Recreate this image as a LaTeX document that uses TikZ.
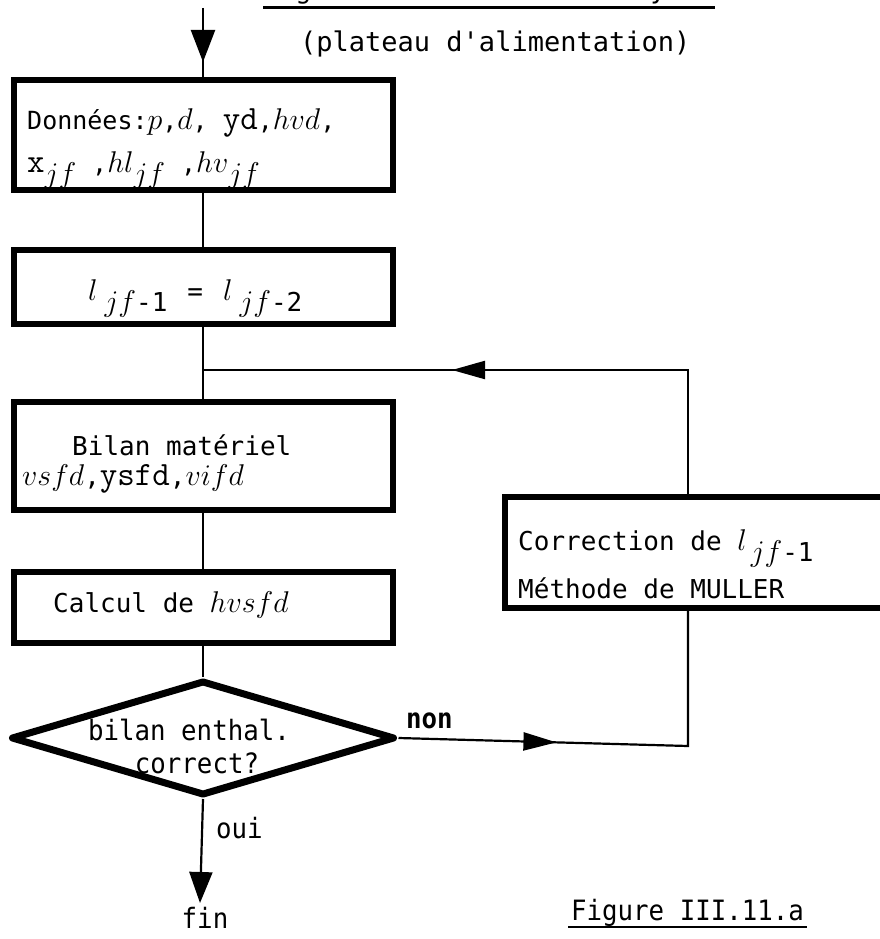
\documentclass[tikz,border=0pt]{standalone}
\usepackage{fix-cm}
\usepackage{fontspec}
\usetikzlibrary{shapes.geometric,arrows.meta,decorations.markings,calc}
\newfontfamily\mono{DejaVu Sans Mono}
\newfontfamily\narrow[FakeStretch=0.92]{DejaVu Sans Mono}
\newcommand\cour{\ttfamily\fontsize{34}{34}\selectfont}
\newcommand\mi[1]{{\fontsize{30}{30}\selectfont$#1$}}
\newcommand\lo[1]{\raisebox{-11pt}{#1}}
\tikzset{
  box/.style={draw, line width=6pt, inner sep=0pt},
  dia/.style={diamond, draw, line width=7pt, line join=round, inner sep=0pt,
              minimum width=384pt, minimum height=115pt},
  txt/.style={anchor=base west, inner sep=0pt, font={\mono\fontsize{26}{30}\selectfont}},
  txtA/.style={anchor=base west, inner sep=0pt, font={\mono\fontsize{25}{30}\selectfont}},
  ntxt/.style={anchor=base west, inner sep=0pt, font={\narrow\fontsize{28}{30}\selectfont}},
  conn/.style={line width=2.2pt},
  uline/.style={line width=2.5pt},
  bigarrow/.style={postaction={decorate}, decoration={markings,
      mark=at position #1 with {\arrow{Triangle[length=32pt,width=24pt]}}}},
  midarrow/.style={postaction={decorate}, decoration={markings,
      mark=at position #1 with {\arrow{Triangle[length=33pt,width=18pt]}}}},
}
\begin{document}
\begin{tikzpicture}[x=1pt,y=-1pt]
\fill[white] (0,0) rectangle (880,939);
\useasboundingbox (0,0) rectangle (880,939);

% title (cut off at top, as in the reference)
\node[anchor=base west, inner sep=0pt, font={\mono\fontsize{26.8}{30}\selectfont}] (title) at (263,-1) {Algorithme de calcul de ysfd};
\draw[uline] ([yshift=-8.5pt]title.base west) -- ([yshift=-8.5pt]title.base east);
\node[anchor=base west, inner sep=0pt, font={\mono\fontsize{27}{30}\selectfont}] (plat) at (300,52) {(plateau d'alimentation)};

% boxes
\node[box, minimum width=379pt, minimum height=110pt] (b1) at (203,135) {};
\node[box, minimum width=379pt, minimum height=74pt]  (b2) at (203,287) {};
\node[box, minimum width=379pt, minimum height=108pt] (b3) at (203,456) {};
\node[box, minimum width=379pt, minimum height=71pt]  (b4) at (203,607.5) {};
\node[box, minimum width=385pt, minimum height=111pt] (corr) at (697.5,552.5) {};
\node[dia] (d) at (203,738) {};

% texts
\node[txtA] (t1a) at (27,129) {Données:\mi{p},\mi{d}, {\cour yd},\mi{hvd},};
\node[txtA] (t1b) at (27,172) {{\cour x}\lo{\mi{jf}}\hspace{16pt},\mi{hl}\lo{\mi{jf}}\hspace{16pt},\mi{hv}\lo{\mi{jf}}};
\node[txt] (t2) at (88,300) {\mi{l}\hspace{7pt}\lo{\mi{jf}-1}\hspace{20pt}=\hspace{20pt}\mi{l}\hspace{7pt}\lo{\mi{jf}-2}};
\node[txt] (t3a) at (72,455) {Bilan matériel};
\node[txt] (t3b) at (22,485) {\mi{vsfd},{\cour ysfd},\mi{vifd}};
\node[txt] (t4) at (53,612) {Calcul de \mi{hvsfd}};
\node[txt] (t5a) at (518,550) {Correction de \mi{l}\hspace{4pt}\lo{\mi{jf}-1}};
\node[txt] (t5b) at (518,598) {Méthode de MULLER};
\node[ntxt, anchor=base] (td1) at (189,740) {bilan enthal.};
\node[ntxt, anchor=base] (td2) at (197,773) {correct?};
\node[ntxt, font={\narrow\bfseries\fontsize{28}{30}\selectfont}] (non) at (406,728) {non};
\node[ntxt] (oui) at (216,838) {oui};
\node[ntxt, anchor=base] (fin) at (205,928) {fin};
\node[ntxt] (fig) at (571,920) {Figure III.11.a};
\draw[uline] ([yshift=-7pt,xshift=-3pt]fig.base west) -- ([yshift=-7pt,xshift=3pt]fig.base east);

% coordinates
\coordinate (start) at (203,8);
\coordinate (J) at (203,370);
\coordinate (c1) at (688,370);
\coordinate (c2) at (688,746);
\coordinate (e) at (200,903);

% connectors
\draw[conn, bigarrow=54pt] (start) -- (b1.north);
\draw[conn] (b1.south) -- (b2.north);
\draw[conn] (b2.south) -- (b3.north);
\draw[conn] (b3.south) -- (b4.north);
\draw[conn] (b4.south) -- (d.north);
\draw[conn, midarrow=360pt] (corr.north -| c1) -- (c1) -- (J);
\draw[conn, midarrow=158pt] (d.east) -- (c2) -- (corr.south -| c2);
\draw[conn, -{Triangle[length=31pt,width=23pt]}] (d.south) -- (e);
\end{tikzpicture}
\end{document}
